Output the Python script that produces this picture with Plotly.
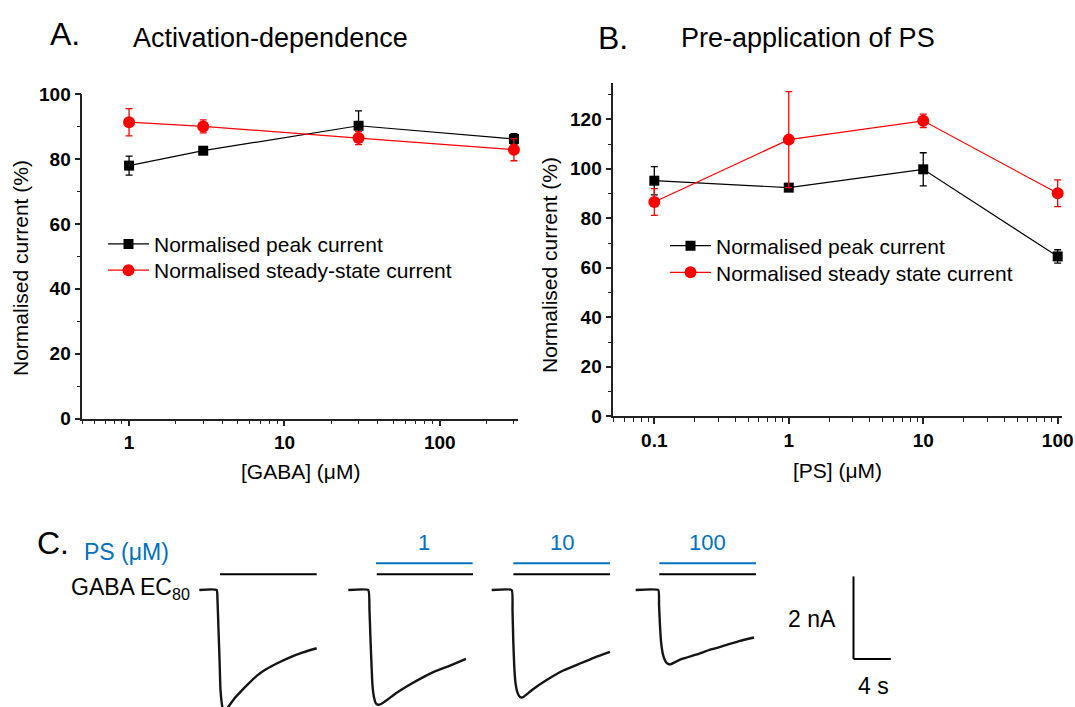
import math
import plotly.graph_objects as go

W, H = 1075, 707
FONT = "Liberation Sans, Arial, sans-serif"
BLUE = "#0070C0"
RED = "#FF0000"
AXC = "#222222"

# ---------------- data ----------------
# Panel A: activation dependence
gaba_conc = [1, 3, 30, 300]
gaba_peak = [78.0, 82.6, 90.3, 86.2]
gaba_peak_err = [2.9, 1.0, 4.6, 1.7]
gaba_ss = [91.4, 90.1, 86.5, 82.9]
gaba_ss_err = [4.2, 2.0, 2.0, 3.4]

# Panel B: pre-application of PS
ps_conc = [0.1, 1, 10, 100]
ps_peak = [95.2, 92.4, 99.8, 64.6]
ps_peak_err = [5.7, 0.8, 6.7, 2.7]
ps_ss = [86.6, 111.8, 119.4, 90.1]
ps_ss_err = [5.4, 19.4, 2.7, 5.4]

tick_a = [1, 10, 100]
tick_b = [0.1, 1, 10, 100]

# Panel C: current sweeps (time in s from sweep start, current in nA)
sweep_ps_labels = ["", "1", "10", "100"]
sweep1_t = [0.0, 1.86, 1.95, 2.06, 2.17, 2.27, 2.43, 2.59, 3.11, 3.72, 4.36, 5.22,
            6.15, 7.15, 8.30, 9.72, 11.11, 12.58]
sweep1_i = [0.0, 0.0, -0.24, -0.97, -1.69, -2.42, -2.78, -2.95, -2.83, -2.64, -2.48, -2.28,
            -2.08, -1.92, -1.78, -1.63, -1.51, -1.41]
sweep2_t = [0.0, 2.14, 2.27, 2.38, 2.49, 2.59, 2.75, 2.97, 3.22, 3.50, 4.04, 5.19,
            6.61, 8.04, 9.40, 10.90, 12.61]
sweep2_i = [0.0, 0.0, -0.48, -1.21, -1.82, -2.30, -2.59, -2.75, -2.78, -2.76, -2.68, -2.49,
            -2.29, -2.11, -1.96, -1.83, -1.67]
sweep3_t = [0.0, 2.14, 2.23, 2.31, 2.41, 2.55, 2.77, 3.03, 3.32, 3.68, 4.32, 5.89,
            7.67, 9.46, 11.07, 12.68]
sweep3_i = [0.0, 0.0, -0.48, -1.21, -1.82, -2.25, -2.49, -2.59, -2.60, -2.54, -2.42, -2.18,
            -1.95, -1.78, -1.63, -1.50]
sweep4_t = [0.0, 2.42, 2.50, 2.60, 2.73, 2.93, 3.19, 3.46, 3.73, 4.10, 4.96, 6.54,
            8.07, 9.75, 11.18, 12.68]
sweep4_i = [0.0, 0.0, -0.36, -0.85, -1.28, -1.57, -1.73, -1.79, -1.80, -1.76, -1.67, -1.56,
            -1.44, -1.33, -1.23, -1.15]
sweeps_t = [sweep1_t, sweep2_t, sweep3_t, sweep4_t]
sweeps_i = [sweep1_i, sweep2_i, sweep3_i, sweep4_i]

# application bars (s from sweep start)
gaba_on = [2.22, 3.05, 2.32, 2.53]
gaba_off = [12.58, 13.37, 12.68, 12.89]
ps_on = [None, 2.97, 2.32, 2.53]
ps_off = [None, 13.33, 12.68, 12.89]

scale_current_nA = 2
scale_time_s = 4

# ---------------- layout helpers ----------------
def px(x):
    return x / W

def py(y):
    return 1 - y / H

PX_PER_S = 9.33
PX_PER_NA = 41.3
BASE_Y = 590.0
def ty(yp):  # pixel y -> nA on panel C axis
    return (BASE_Y - yp) / PX_PER_NA

sweep_offset_s = [199.3 / PX_PER_S, 348.3 / PX_PER_S, 491.7 / PX_PER_S, 635.7 / PX_PER_S]
GABA_BAR_Y = ty(574.3)
PS_BAR_Y = ty(563.3)

fig = go.Figure()

def add_series(x, y, err, color, symbol, size, name, xa, ya, legend):
    fig.add_trace(go.Scatter(
        x=x, y=y, mode="lines+markers", name=name,
        xaxis=xa, yaxis=ya, legend=legend,
        line=dict(color=color, width=1.2),
        marker=dict(color=color, symbol=symbol, size=size, line=dict(width=0)),
        error_y=dict(type="data", array=err, color=color, thickness=1.3, width=3.5),
        cliponaxis=False,
    ))

add_series(gaba_conc, gaba_peak, gaba_peak_err, "black", "square", 10,
           "Normalised peak current", "x", "y", "legend")
add_series(gaba_conc, gaba_ss, gaba_ss_err, RED, "circle", 12,
           "Normalised steady-state current", "x", "y", "legend2")
add_series(ps_conc, ps_peak, ps_peak_err, "black", "square", 10,
           "Normalised peak current", "x2", "y2", "legend3")
add_series(ps_conc, ps_ss, ps_ss_err, RED, "circle", 12,
           "Normalised steady state current", "x2", "y2", "legend4")

# Panel C sweeps
for k in range(4):
    off = sweep_offset_s[k]
    fig.add_trace(go.Scatter(
        x=[off + t for t in sweeps_t[k]], y=sweeps_i[k], mode="lines",
        line=dict(color="#151515", width=2.4, shape="spline", smoothing=0.4),
        xaxis="x3", yaxis="y3", showlegend=False, hoverinfo="skip"))
    fig.add_trace(go.Scatter(
        x=[off + gaba_on[k], off + gaba_off[k]], y=[GABA_BAR_Y, GABA_BAR_Y],
        mode="lines", line=dict(color="black", width=2),
        xaxis="x3", yaxis="y3", showlegend=False, hoverinfo="skip"))
    if ps_on[k] is not None:
        fig.add_trace(go.Scatter(
            x=[off + ps_on[k], off + ps_off[k]], y=[PS_BAR_Y, PS_BAR_Y],
            mode="lines", line=dict(color=BLUE, width=2),
            xaxis="x3", yaxis="y3", showlegend=False, hoverinfo="skip"))
        fig.add_annotation(x=off + (ps_on[k] + ps_off[k]) / 2, y=ty(542.7),
                           xref="x3", yref="y3", text=sweep_ps_labels[k],
                           showarrow=False, font=dict(family=FONT, size=22, color=BLUE))

# scale bar
sb_x = 853.5 / PX_PER_S
sb_y = ty(659.0)
fig.add_shape(type="line", xref="x3", yref="y3", x0=sb_x, x1=sb_x,
              y0=sb_y, y1=sb_y + scale_current_nA, line=dict(color="black", width=2))
fig.add_shape(type="line", xref="x3", yref="y3", x0=sb_x, x1=sb_x + scale_time_s,
              y0=sb_y, y1=sb_y, line=dict(color="black", width=2))

def log_minor(lo, hi):
    vals = []
    for e in range(-3, 4):
        for m in range(2, 10):
            v = m * 10 ** e
            if lo <= v <= hi:
                vals.append(v)
    return vals

common_axis = dict(showline=True, linecolor=AXC, linewidth=1.5, ticks="outside",
                   ticklen=6, tickwidth=1.5, tickcolor=AXC, showgrid=False,
                   zeroline=False, mirror=False, automargin=False,
                   tickfont=dict(family=FONT, size=19, color="black", weight="bold"))
minor_common = dict(ticks="outside", ticklen=3.5, tickwidth=1.3, tickcolor=AXC, showgrid=False)

def legend_at(x, y):
    return dict(x=px(x), y=py(y), xanchor="left", yanchor="middle",
                bgcolor="rgba(0,0,0,0)", borderwidth=0,
                font=dict(family=FONT, size=21, color="black"),
                tracegroupgap=0, itemwidth=41)

fig.update_layout(
    width=W, height=H, margin=dict(l=0, r=0, t=0, b=0, pad=0, autoexpand=False),
    paper_bgcolor="white", plot_bgcolor="white",
    font=dict(family=FONT, color="black"),
    xaxis=dict(type="log", domain=[px(82.3), px(518.3)],
               range=[math.log10(0.5), math.log10(320)], anchor="y",
               tickmode="array", tickvals=tick_a, ticktext=[str(v) for v in tick_a],
               minor=dict(tickmode="array", tickvals=log_minor(0.5, 320), **minor_common),
               **common_axis),
    yaxis=dict(domain=[py(418.5), py(94.3)], range=[0, 100], anchor="x",
               dtick=20, minor=dict(dtick=10, **minor_common), **common_axis),
    xaxis2=dict(type="log", domain=[px(613.3), px(1062)],
                range=[-1.305, 2.032], anchor="y2",
                tickmode="array", tickvals=tick_b, ticktext=[("%g" % v) for v in tick_b],
                minor=dict(tickmode="array", tickvals=log_minor(0.05, 107), **minor_common),
                **common_axis),
    yaxis2=dict(domain=[py(416.3), py(82.7)], range=[0, 134.8], anchor="x2",
                dtick=20, minor=dict(dtick=10, **minor_common), **common_axis),
    xaxis3=dict(domain=[0, 1], range=[0, W / PX_PER_S], visible=False, anchor="y3"),
    yaxis3=dict(domain=[0, py(530)], range=[ty(707), ty(530)], visible=False, anchor="x3"),
    legend=legend_at(103, 244.3),
    legend2=legend_at(103, 270.5),
    legend3=legend_at(665, 246),
    legend4=legend_at(665, 272.7),
)

def ann(x, y, text, size, color="black", xanchor="center", angle=0):
    fig.add_annotation(x=px(x), y=py(y), xref="paper", yref="paper", text=text,
                       showarrow=False, xanchor=xanchor, yanchor="middle", textangle=angle,
                       font=dict(family=FONT, size=size, color=color))

# titles
ann(48, 34, "A.", 32, xanchor="left")
ann(131, 38, "Activation-dependence", 27, xanchor="left")
ann(596, 38, "B.", 32, xanchor="left")
ann(679, 38, "Pre-application of PS", 27, xanchor="left")
# axis titles
ann(20, 268, "Normalised current (%)", 21, angle=-90)
ann(300.5, 472, "[GABA] (\u03bcM)", 21)
ann(550, 265, "Normalised current (%)", 21, angle=-90)
ann(837, 470, "[PS] (\u03bcM)", 21)
# panel C texts
ann(35, 543, "C.", 32, xanchor="left")
ann(82, 552, "PS (\u03bcM)", 23, color=BLUE, xanchor="left")
ann(192, 588, "GABA EC<sub>80</sub>", 23, xanchor="right")
ann(812, 619, "2 nA", 23)
ann(873, 686, "4 s", 23)

fig.write_html("out.html")
